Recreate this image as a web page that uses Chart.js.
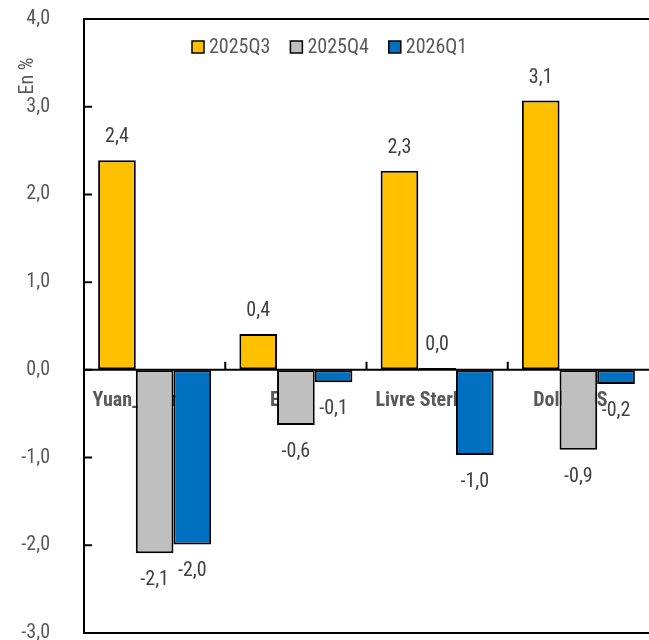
<!DOCTYPE html>
<html>
<head>
<meta charset="utf-8">
<script src="https://cdn.jsdelivr.net/npm/chart.js@4/dist/chart.umd.min.js"></script>
<style>
  html, body { margin: 0; padding: 0; background: #fff; }
  #wrap { width: 649px; height: 640px; }
</style>
</head>
<body>
<div id="wrap"><canvas id="chart"></canvas></div>
<script>
// chart data
var categories = ['Yuan_Ribimbi', 'Euro', 'Livre Sterling', 'Dollar US'];
var seriesNames = ['2025Q3', '2025Q4', '2026Q1'];
var q3Values = [2.39, 0.41, 2.27, 3.07];
var q4Values = [-2.09, -0.63, 0.02, -0.91];
var q1Values = [-1.99, -0.14, -0.97, -0.16];
var yTicks = [-3, -2, -1, 0, 1, 2, 3, 4];

var FONT = "'Roboto Condensed', 'Open Sans', sans-serif";
var GREY_TEXT = '#595959';

function fmt(v) {
  return v.toFixed(1).replace('.', ',');
}

// frame, ticks, category names, value labels and legend
var decorations = {
  id: 'decorations',
  beforeDatasetsDraw: function (chart) {
    var ctx = chart.ctx, x = chart.scales.x, y = chart.scales.y;
    var y0 = y.getPixelForValue(0);
    ctx.save();
    ctx.font = 'bold 20px ' + FONT;
    ctx.fillStyle = GREY_TEXT;
    ctx.textAlign = 'center';
    ctx.textBaseline = 'middle';
    categories.forEach(function (c, i) {
      ctx.fillText(c, x.getPixelForValue(i) - 8, y0 + 31);
    });
    ctx.restore();
  },
  afterDatasetsDraw: function (chart) {
    var ctx = chart.ctx, x = chart.scales.x, y = chart.scales.y;
    var area = chart.chartArea;
    var y0 = y.getPixelForValue(0);
    ctx.save();
    ctx.strokeStyle = '#000';
    ctx.lineWidth = 2;
    // zero line, top and bottom frame
    ctx.beginPath();
    ctx.moveTo(area.left, y0); ctx.lineTo(area.right, y0);
    ctx.moveTo(area.left, area.top); ctx.lineTo(area.right, area.top);
    ctx.moveTo(area.left, area.bottom); ctx.lineTo(area.right, area.bottom);
    ctx.stroke();
    // inside tick marks on y axis
    ctx.beginPath();
    yTicks.forEach(function (t) {
      var py = y.getPixelForValue(t);
      ctx.moveTo(area.left, py); ctx.lineTo(area.left + 8, py);
    });
    // category boundary marks on zero line
    for (var i = 0; i < categories.length - 1; i++) {
      var bx = (x.getPixelForValue(i) + x.getPixelForValue(i + 1)) / 2;
      ctx.moveTo(bx, y0); ctx.lineTo(bx, y0 - 8);
    }
    ctx.stroke();

    // value labels
    ctx.font = '20px ' + FONT;
    ctx.fillStyle = '#404040';
    ctx.textAlign = 'center';
    ctx.textBaseline = 'middle';
    chart.data.datasets.forEach(function (ds, di) {
      var meta = chart.getDatasetMeta(di);
      meta.data.forEach(function (bar, i) {
        var v = ds.data[i];
        var py = v >= 0 ? bar.y - 23 : bar.y + 27;
        ctx.fillText(fmt(v), bar.x, py);
      });
    });

    // y title
    ctx.save();
    ctx.fillStyle = GREY_TEXT;
    ctx.font = '20px ' + FONT;
    ctx.translate(28, 76);
    ctx.rotate(-Math.PI / 2);
    ctx.fillText('En %', 0, 0);
    ctx.restore();

    // legend
    ctx.font = '20px ' + FONT;
    ctx.textAlign = 'left';
    var lx = 192, ly = 47;
    chart.data.datasets.forEach(function (ds) {
      ctx.fillStyle = ds.backgroundColor;
      ctx.fillRect(lx, ly - 6, 12, 12);
      ctx.lineWidth = 1.5;
      ctx.strokeStyle = '#000';
      ctx.strokeRect(lx, ly - 6, 12, 12);
      ctx.fillStyle = GREY_TEXT;
      ctx.fillText(ds.label, lx + 17, ly + 1);
      lx += 17 + ctx.measureText(ds.label).width + 20;
    });
    ctx.restore();
  }
};

var ctx = document.getElementById('chart').getContext('2d');
var chart = new Chart(ctx, {
  type: 'bar',
  data: {
    labels: categories,
    datasets: [
      { label: seriesNames[0], data: q3Values, backgroundColor: '#FFC000' },
      { label: seriesNames[1], data: q4Values, backgroundColor: '#BFBFBF' },
      { label: seriesNames[2], data: q1Values, backgroundColor: '#0070C0' }
    ]
  },
  options: {
    responsive: true,
    maintainAspectRatio: false,
    animation: false,
    layout: { padding: { top: 19, bottom: 7, left: 0, right: 0 } },
    datasets: {
      bar: {
        borderColor: '#000',
        borderWidth: 2,
        borderSkipped: false,
        categoryPercentage: 0.8,
        barPercentage: 1.0
      }
    },
    plugins: {
      legend: { display: false },
      tooltip: { enabled: false }
    },
    scales: {
      x: { display: false },
      y: {
        min: -3,
        max: 4,
        afterBuildTicks: function (scale) {
          scale.ticks = yTicks.map(function (v) { return { value: v }; });
        },
        afterFit: function (scale) {
          scale.width = 84;
          scale.paddingTop = 0;
          scale.paddingBottom = 0;
        },
        grid: { display: true, drawOnChartArea: false, drawTicks: false },
        border: { display: true, color: '#000', width: 2 },
        ticks: {
          padding: 34,
          color: GREY_TEXT,
          font: { family: "'Roboto Condensed', sans-serif", size: 20 },
          callback: function (v) { return fmt(v); }
        }
      }
    }
  },
  plugins: [decorations]
});
</script>
</body>
</html>
